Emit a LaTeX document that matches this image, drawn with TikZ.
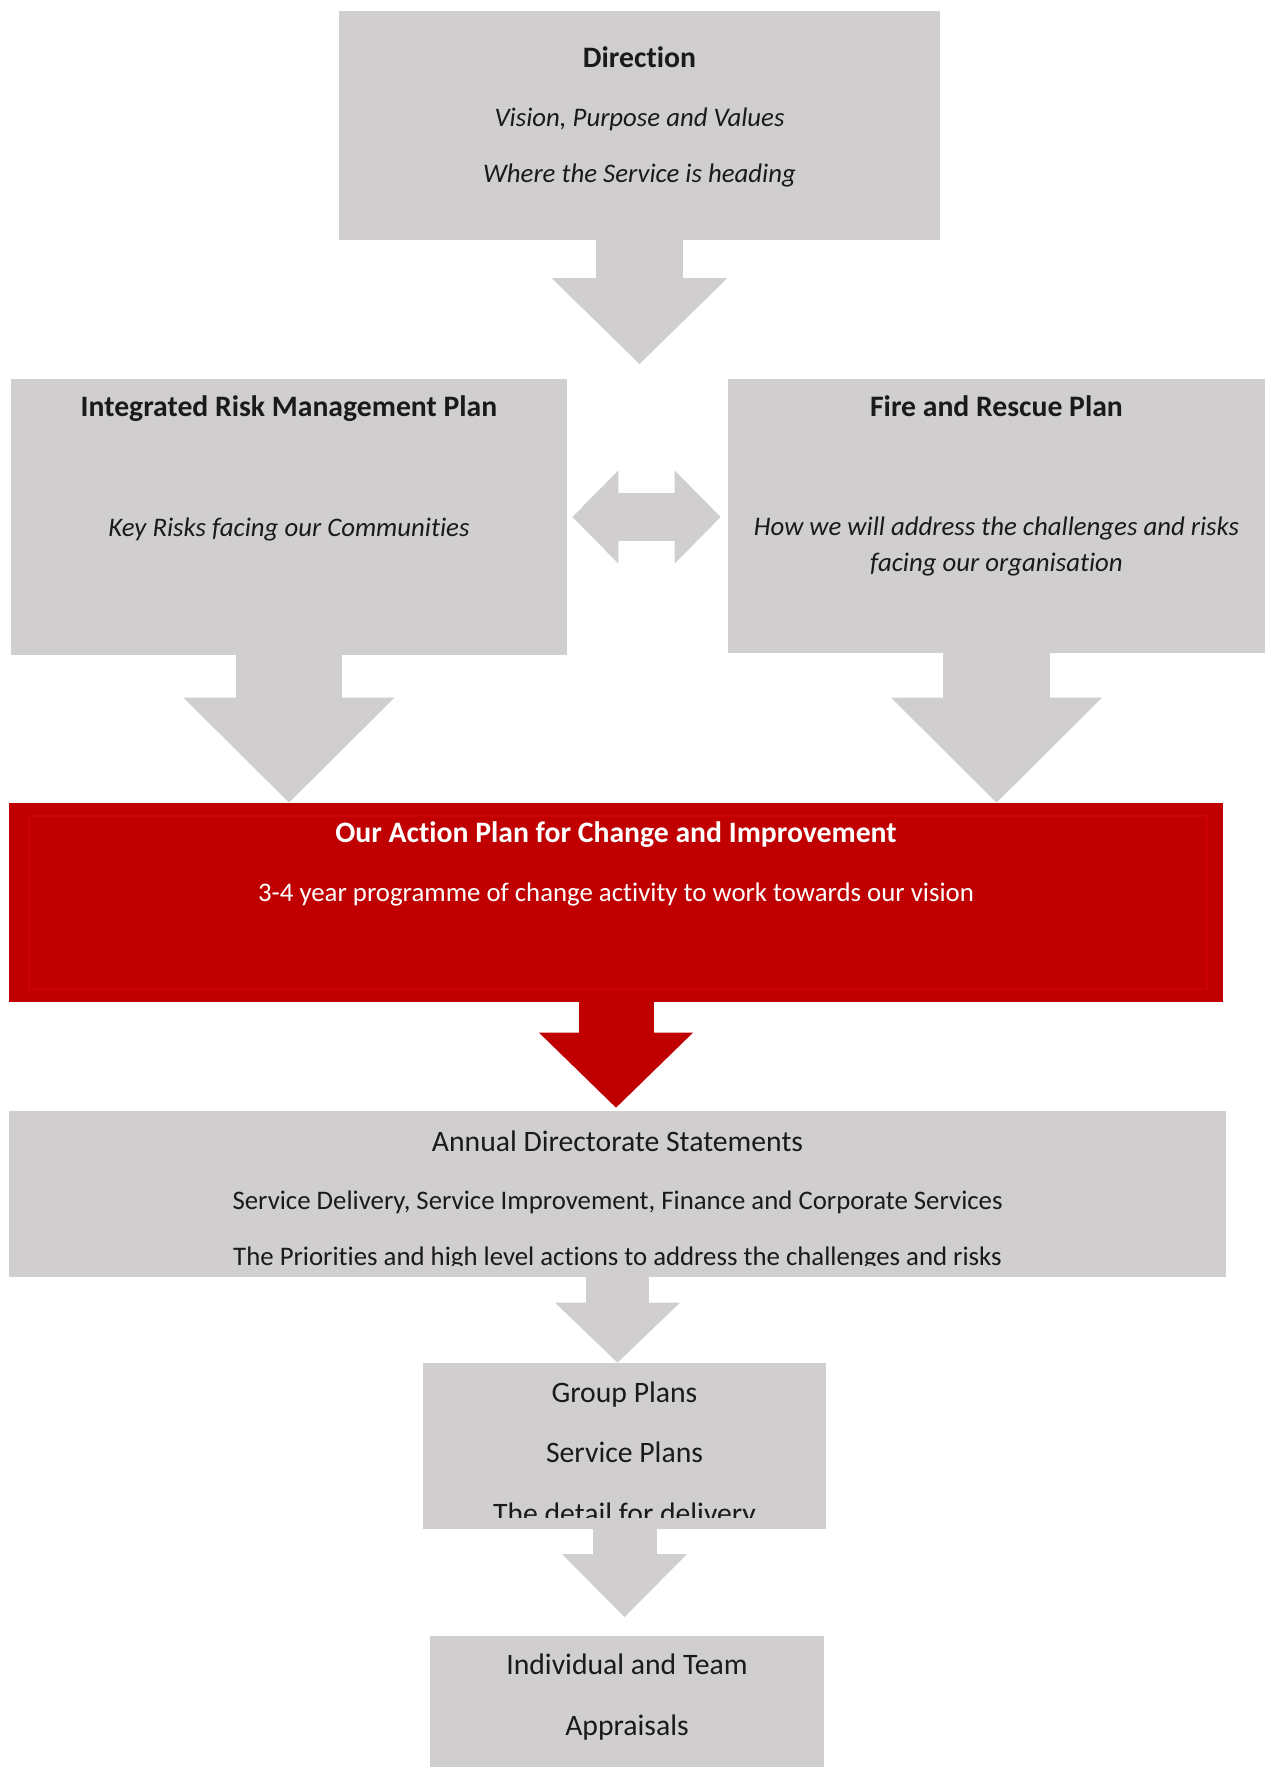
\documentclass[tikz,border=0pt]{standalone}
\usepackage{fontspec}
\setmainfont{Carlito}[Ligatures=NoCommon]
\usetikzlibrary{arrows.meta,fit}

\definecolor{panelgray}{HTML}{D0CECE}
\definecolor{planred}{HTML}{C00000}
\definecolor{rimred}{HTML}{CB0303}
\definecolor{ink}{HTML}{1A1A1A}

\tikzset{
  panel/.style={fill=panelgray, inner sep=0pt},
  redpanel/.style={fill=planred, inner sep=0pt},
  head/.style={anchor=base, text=ink, font=\fontsize{16.9}{20}\selectfont\bfseries},
  big/.style={anchor=base, text=ink, font=\fontsize{16.9}{20}\selectfont},
  body/.style={anchor=base, text=ink, font=\fontsize{15.25}{20}\selectfont},
  slant/.style={anchor=base, text=ink, align=center, font=\fontsize{15.25}{20}\selectfont\itshape},
  flow/.style n args={4}{draw=#1, line width=#2,
    -{Triangle[width=#3, length=#4, line width=0pt]}},
  twoway/.style n args={3}{draw=panelgray, line width=#1,
    {Triangle[width=#2, length=#3, line width=0pt]}-{Triangle[width=#2, length=#3, line width=0pt]}}
}

\begin{document}
\begin{tikzpicture}[x=0.02cm, y=-0.02cm]
\useasboundingbox (0,0) rectangle (1272,1767);
%\draw[help lines, color=gray!30] (0,0) grid[step=100] (1272,1767);

% boxes
\node[panel, fit={(339,11) (940,240)}] (dir) {};
\node[panel, fit={(11,379) (567,655)}] (irmp) {};
\node[panel, fit={(728,379) (1265,653)}] (frp) {};
\node[redpanel, fit={(9,803) (1223,1002)}] (action) {};
\draw[rimred, line width=0.04cm] (29,816) rectangle (1207,989);
\node[panel, fit={(9,1111) (1226,1277)}] (annual) {};
\node[panel, fit={(423,1363) (826,1529)}] (group) {};
\node[panel, fit={(430,1636) (824,1770)}] (indiv) {};

% texts
\node[head] (dirA) at (639.5,68) {Direction};
\node[slant] (dirB) at (639.5,127) {Vision, Purpose and Values};
\node[slant] (dirC) at (639.5,183) {Where the Service is heading};

\node[head] (irmpA) at (289,416) {Integrated Risk Management Plan};
\node[slant] (irmpB) at (289,536) {Key Risks facing our Communities};

\node[head] (frpA) at (996.5,416) {Fire and Rescue Plan};
\node[slant] (frpB) at (996.5,571) {How we will address the challenges and risks\\facing our organisation};

\node[head, text=white] (actA) at (616,842) {Our Action Plan for Change and Improvement};
\node[body, text=white] (actB) at (616,901) {3-4 year programme of change activity to work towards our vision};

\node[big] (annA) at (617.5,1151) {Annual Directorate Statements};
\node[body] (annB) at (617.5,1209) {Service Delivery, Service Improvement, Finance and Corporate Services};
\begin{scope}
\clip (9,1111) rectangle (1226,1265);
\node[body] (annC) at (617.5,1265) {The Priorities and high level actions to address the challenges and risks};
\end{scope}

\node[big] (grpA) at (624.5,1402) {Group Plans};
\node[big] (grpB) at (624.5,1462) {Service Plans};
\begin{scope}
\clip (423,1363) rectangle (826,1517);
\node[big] (grpC) at (624.5,1523) {The detail for delivery};
\end{scope}

\node[big] (indA) at (627,1674) {Individual and Team};
\node[big] (indB) at (627,1735) {Appraisals};

% block arrows
\coordinate (dirtip) at (639.5,364);
\coordinate (grptip) at (624.5,1617);
\draw[flow={panelgray}{1.74cm}{3.52cm}{1.72cm}] (dir.south) -- (dirtip);
\draw[twoway={0.96cm}{1.86cm}{0.92cm}, shorten <=0.1cm, shorten >=0.14cm] (irmp.east) -- (irmp.east -| frp.west);
\draw[flow={panelgray}{2.12cm}{4.22cm}{2.1cm}] (irmp.south) -- (irmp.south |- action.north);
\draw[flow={panelgray}{2.14cm}{4.22cm}{2.1cm}] (frp.south) -- (frp.south |- action.north);
\draw[flow={planred}{1.5cm}{3.08cm}{1.5cm}] (action.south) -- ([yshift=0.06cm]action.south |- annual.north);
\draw[flow={panelgray}{1.26cm}{2.5cm}{1.2cm}] (annual.south) -- (annual.south |- group.north);
\draw[flow={panelgray}{1.28cm}{2.5cm}{1.26cm}] (group.south) -- (grptip);
\end{tikzpicture}
\end{document}
